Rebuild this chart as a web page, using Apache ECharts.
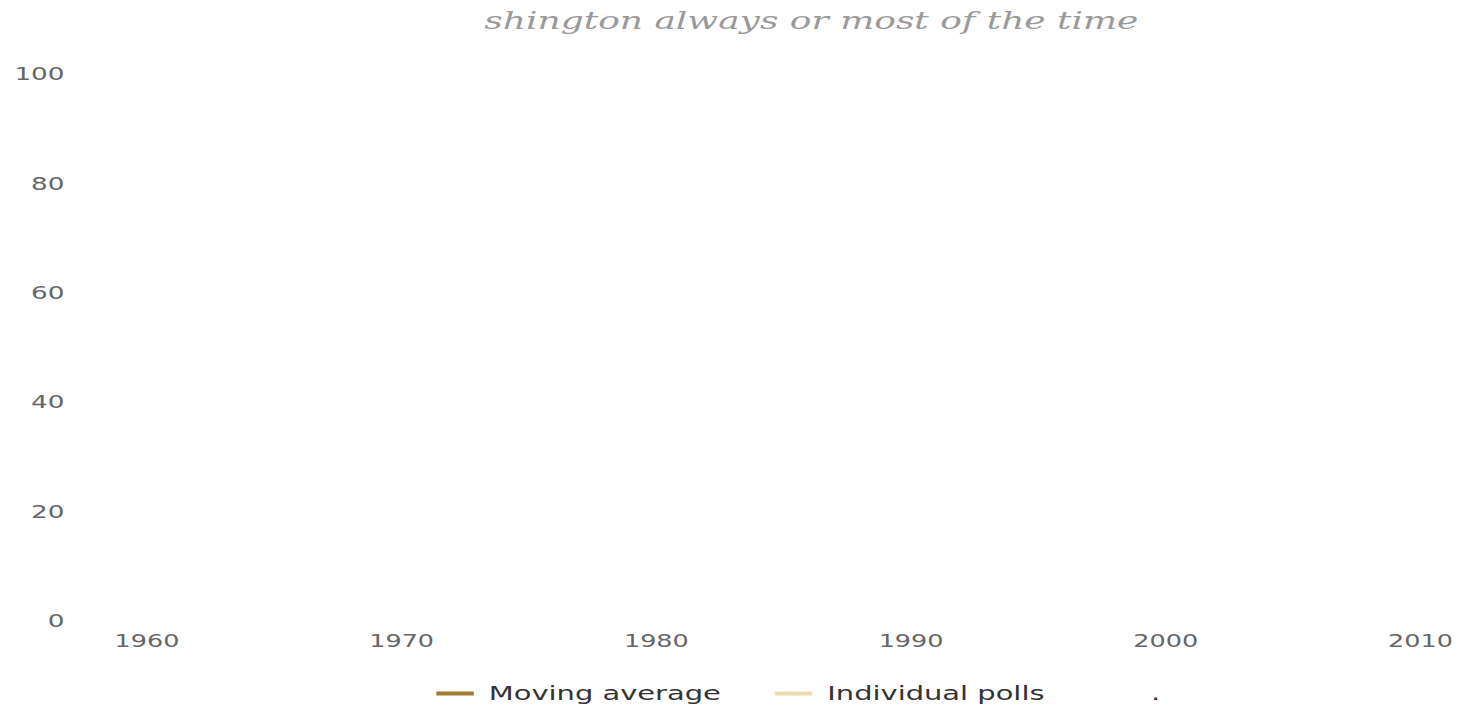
<!DOCTYPE html>
<html>
<head>
<meta charset="utf-8">
<script src="https://cdn.jsdelivr.net/npm/echarts@6/dist/echarts.min.js"></script>
<style>
  html, body { margin: 0; padding: 0; background: #ffffff; overflow: hidden; }
  #wrap { width: 1462px; height: 707px; overflow: hidden; }
  #chart { width: 975px; height: 707px; transform: scaleX(1.4995); transform-origin: 0 0; }
</style>
</head>
<body>
<div id="wrap"><div id="chart"></div></div>
<script>
// Visible title text (truncated in the reference)
const titleText = 'shington always or most of the time';

// Axis ticks
const xTicks = [1960, 1970, 1980, 1990, 2000, 2010];
const yTicks = [0, 20, 40, 60, 80, 100];

// Series names and values (no marks are drawn in the reference)
const seriesNames = ['Moving average', 'Individual polls', '.'];
const seriesColors = ['#a07f33', '#eddcae', '#ffffff'];
const movingAverage = [];
const individualPolls = [];
const dotSeries = [];
const seriesValues = [movingAverage, individualPolls, dotSeries];

const chart = echarts.init(document.getElementById('chart'), null, { renderer: 'svg' });

const option = {
  animation: false,
  backgroundColor: '#ffffff',
  title: {
    text: titleText,
    left: 318,
    top: 4,
    textStyle: {
      fontFamily: 'DejaVu Serif',
      fontStyle: 'italic',
      fontWeight: 'normal',
      fontSize: 24,
      color: '#9a9a9a'
    }
  },
  legend: {
    data: seriesNames.map((n, i) => ({
      name: n,
      icon: 'rect',
      itemStyle: { color: seriesColors[i], opacity: i === 2 ? 0 : 1 }
    })),
    left: 286,
    top: 679,
    itemWidth: 25,
    itemHeight: 4,
    itemGap: 36,
    textStyle: {
      fontFamily: 'DejaVu Sans',
      fontSize: 19.3,
      color: '#333333',
      padding: [0, 0, 0, 5]
    }
  },
  grid: {
    left: 98,
    right: 27.7,
    top: 74,
    bottom: 86,
    containLabel: false
  },
  xAxis: {
    type: 'value',
    min: xTicks[0],
    max: xTicks[xTicks.length - 1],
    interval: 10,
    axisLine: { show: false },
    axisTick: { show: false },
    splitLine: { show: false },
    axisLabel: {
      margin: 12,
      fontFamily: 'DejaVu Sans',
      fontSize: 17,
      color: '#666666',
      formatter: v => xTicks.includes(v) ? String(v) : ''
    }
  },
  yAxis: {
    type: 'value',
    min: yTicks[0],
    max: yTicks[yTicks.length - 1],
    interval: 20,
    axisLine: { show: false },
    axisTick: { show: false },
    splitLine: { show: false },
    axisLabel: {
      margin: 55,
      fontFamily: 'DejaVu Sans',
      fontSize: 17.5,
      color: '#666666',
      formatter: v => yTicks.includes(v) ? String(v) : ''
    }
  },
  series: seriesNames.map((n, i) => ({
    name: n,
    type: 'line',
    data: seriesValues[i],
    showSymbol: false,
    itemStyle: { color: seriesColors[i] },
    lineStyle: { color: seriesColors[i], width: 3 }
  }))
};

chart.setOption(option);
</script>
</body>
</html>
